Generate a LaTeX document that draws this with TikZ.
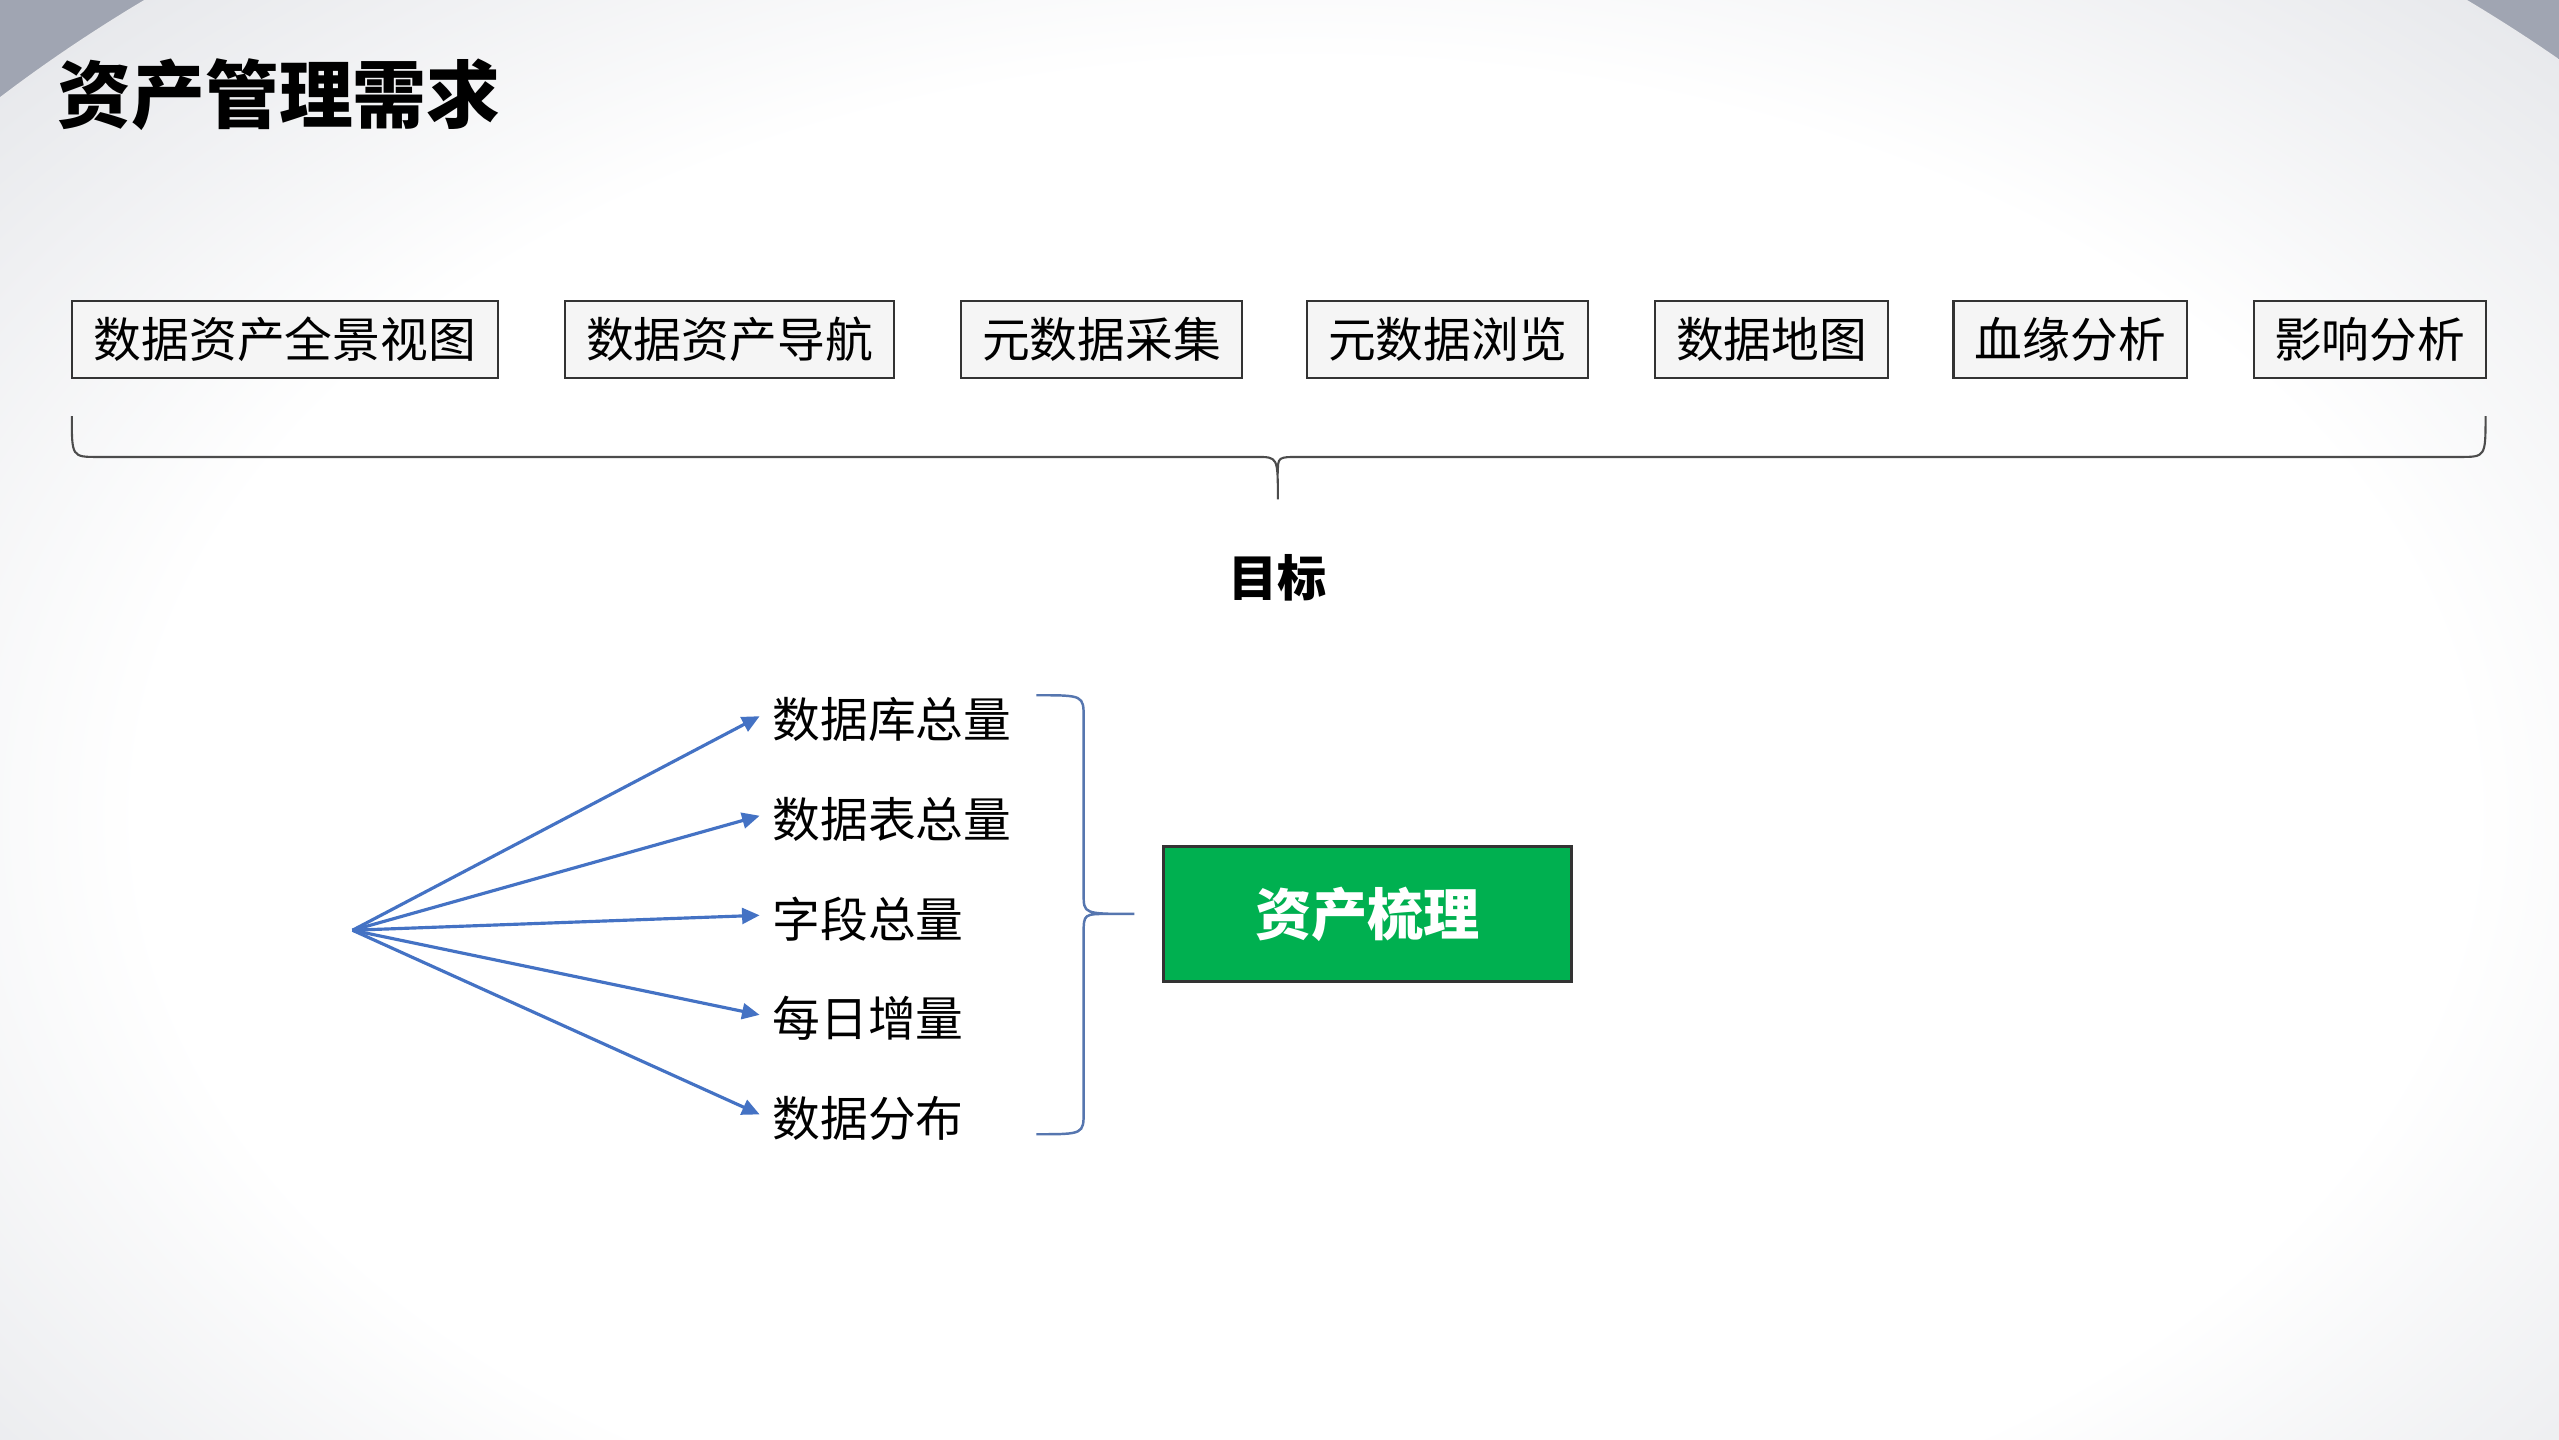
\documentclass[tikz,border=0pt]{standalone}
\usepackage{fontspec}
\setmainfont{Noto Sans CJK SC}
\usetikzlibrary{arrows.meta}
\definecolor{arr}{RGB}{68,114,196}
\definecolor{grn}{RGB}{0,176,80}
\definecolor{edge}{RGB}{160,165,178}
\pgfdeclareradialshading{bgshade}{\pgfpoint{0bp}{0bp}}{color(0bp)=(white); color(17bp)=(white); color(50bp)=(edge)}
\tikzset{
  topbox/.style={draw=black!80,line width=0.6pt,fill=white!92!gray,minimum height=0.767cm,inner sep=0pt,font=\fontsize{13.6pt}{16pt}\selectfont},
  item/.style={anchor=west,inner sep=0pt,font=\fontsize{13.6pt}{16pt}\selectfont},
  link/.style={arr,line width=0.9pt,-{Triangle[length=5pt,width=4.5pt]}},
}
\begin{document}
\begin{tikzpicture}[x=0.01632cm,y=-0.01632cm]
\useasboundingbox (0,0) rectangle (1568,882);
\fill[edge] (0,0) rectangle (1568,882);
\begin{scope}
\clip (0,0) rectangle (1568,882);
\shade[shading=bgshade] (800,500) ellipse (1050 and 680);
\end{scope}
\node[anchor=west,inner sep=0pt,font=\fontsize{21pt}{24pt}\selectfont\bfseries] (title) at (35,58) {资产管理需求};
\foreach \n/\a/\b/\t in {b1/44/305/数据资产全景视图,b2/346/548/数据资产导航,b3/589/761/元数据采集,b4/801/973/元数据浏览,b5/1014/1157/数据地图,b6/1197/1340/血缘分析,b7/1381/1523/影响分析}{
  \node[topbox,minimum width={(\b-\a)*0.01632cm}] (\n) at ({(\a+\b)/2},208) {\t};
}
\coordinate (bl) at (44,255); \coordinate (br) at (1523,255); \coordinate (bt) at (783,306);
\draw[black!70,line width=0.6pt] (bl) .. controls (44,280) .. (60,280) -- (770,280) .. controls (783,280) .. (bt)
  (783,290) .. controls (783,280) .. (796,280) -- (1507,280) .. controls (1523,280) .. (br);
\node[font=\fontsize{14pt}{16pt}\selectfont\bfseries] (goal) at (783,354) {目标};
\coordinate (src) at (216,570);
\foreach \n/\y/\t in {i1/441/数据库总量,i2/502/数据表总量,i3/563/字段总量,i4/624/每日增量,i5/685/数据分布}{
  \node[item] (\n) at (473,\y) {\t};
  \draw[link] (src) -- ([xshift=-3.5pt,yshift=1pt]\n.west);
}
\coordinate (rt) at (635,426); \coordinate (rb) at (635,695); \coordinate (rm) at (695,560);
\draw[arr!70!gray,line width=0.7pt] (rt) .. controls (664,426) .. (664,440) -- (664,548) .. controls (664,560) .. (rm)
  (664,572) .. controls (664,560) .. (680,560) (664,572) -- (664,681) .. controls (664,695) .. (rb);
\node[draw=black!80,line width=0.9pt,fill=grn,text=white,minimum width=250*0.01632cm,minimum height=83*0.01632cm,font=\fontsize{16pt}{18pt}\selectfont\bfseries] (goalbox) at (838,560) {资产梳理};
\end{tikzpicture}
\end{document}
